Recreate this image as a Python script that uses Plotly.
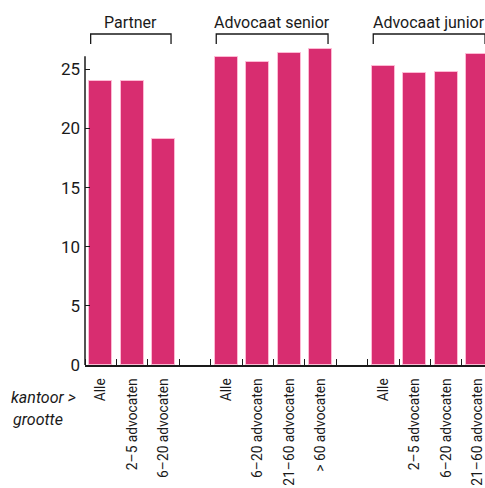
import plotly.graph_objects as go

# ---- data ----
group_names = ["Partner", "Advocaat senior", "Advocaat junior"]
partner_cats = ["Alle", "2–5 advocaten", "6–20 advocaten"]
partner_vals = [24.0, 24.0, 19.1]
senior_cats = ["Alle", "6–20 advocaten", "21–60 advocaten", "> 60 advocaten"]
senior_vals = [26.0, 25.6, 26.4, 26.7]
junior_cats = ["Alle", "2–5 advocaten", "6–20 advocaten", "21–60 advocaten"]
junior_vals = [25.3, 24.7, 24.8, 26.3]
y_ticks = [0, 5, 10, 15, 20, 25]

groups = [(group_names[0], partner_cats, partner_vals),
          (group_names[1], senior_cats, senior_vals),
          (group_names[2], junior_cats, junior_vals)]

# slot positions (one empty slot between groups)
xs, ys, labels, spans = [], [], [], []
pos = 0
for name, cats, vals in groups:
    start = pos
    for c, v in zip(cats, vals):
        xs.append(pos); ys.append(v); labels.append(c)
        pos += 1
    spans.append((name, start, pos - 1))
    pos += 1  # gap

W, H = 485, 488
ml, mr, mt, mb = 85, 0, 40, 123
slot_px = 31.4
x0 = -0.5
x1 = x0 + (W - ml - mr) / slot_px
y_unit_px = 11.83
y1 = (H - mt - mb) / y_unit_px

FONT = "Roboto, sans-serif"
ink = "#1a1a1a"

fig = go.Figure()
fig.add_trace(go.Bar(
    x=xs, y=ys, width=0.73,
    marker=dict(color="#D82D70", line=dict(color="rgba(255,190,215,0.9)", width=1)),
    hoverinfo="skip",
))

boundaries = [x + 0.5 for x in range(-1, pos + 1)]

fig.update_layout(
    width=W, height=H,
    margin=dict(l=ml, r=mr, t=mt, b=mb, autoexpand=False),
    plot_bgcolor="white", paper_bgcolor="white",
    showlegend=False,
    bargap=0,
    font=dict(family=FONT, color=ink),
    xaxis=dict(
        range=[x0, x1], tickmode="array", tickvals=xs, ticktext=labels,
        tickangle=-90, ticks="", ticklabelstandoff=6, ticklabeloverflow="allow",
        tickfont=dict(size=13.8, family=FONT, color=ink),
        showline=True, linecolor=ink, linewidth=1.5, showgrid=False, zeroline=False,
        minor=dict(tickmode="array", tickvals=boundaries, ticks="inside",
                   ticklen=6, tickwidth=1.2, tickcolor=ink, showgrid=False),
        fixedrange=True,
    ),
    yaxis=dict(
        range=[0, y1], tickmode="array", tickvals=y_ticks,
        ticks="inside", ticklen=5, tickwidth=1.2, tickcolor=ink,
        tickfont=dict(size=17, family=FONT, color=ink), ticklabelstandoff=4,
        showline=False, showgrid=False, zeroline=False, fixedrange=True,
    ),
)

# y axis line up to just above 26
fig.add_shape(type="line", xref="paper", yref="y", x0=0, x1=0, y0=0, y1=26.1,
              line=dict(color=ink, width=1.5))

# group brackets
def xp(v):
    return (v - x0) / (x1 - x0)

plot_h = H - mt - mb
def yp(px):
    return (H - mb - px) / plot_h

for name, a, b in spans:
    left, right = xp(a - 0.32), xp(b + 0.24)
    fig.add_shape(type="path", xref="paper", yref="paper",
                  path=f"M {left},{yp(44)} L {left},{yp(34)} L {right},{yp(34)} L {right},{yp(44)}",
                  line=dict(color=ink, width=1.3))
    fig.add_annotation(xref="paper", yref="paper", x=(left + right) / 2, y=yp(22),
                       text=name, showarrow=False, font=dict(size=16, family=FONT, color=ink),
                       xanchor="center", yanchor="middle")

fig.add_annotation(xref="paper", yref="paper", x=(43 - ml) / (W - ml), y=yp(397),
                   text="<i>kantoor ></i>", showarrow=False, xanchor="center", yanchor="middle",
                   font=dict(size=16, family=FONT, color=ink))
fig.add_annotation(xref="paper", yref="paper", x=(38 - ml) / (W - ml), y=yp(419),
                   text="<i>grootte</i>", showarrow=False, xanchor="center", yanchor="middle",
                   font=dict(size=16, family=FONT, color=ink))

fig.write_html("out.html")
